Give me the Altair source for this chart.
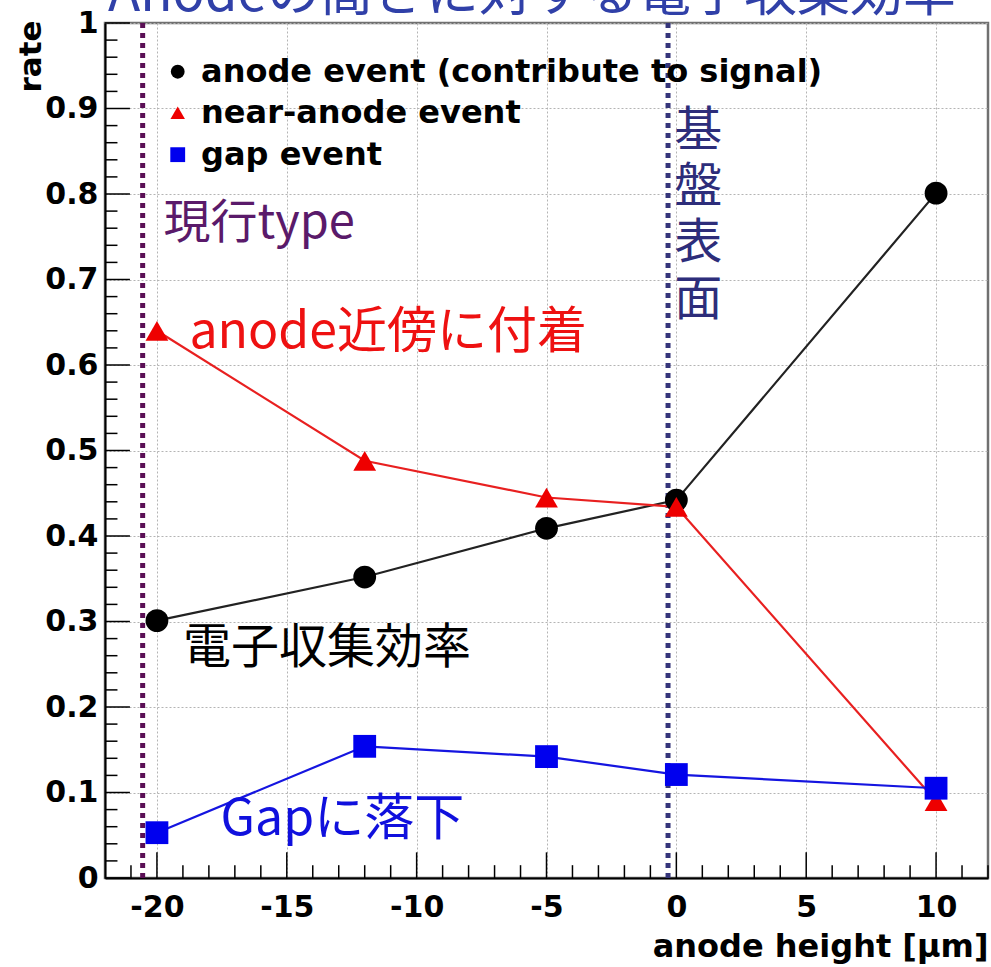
import altair as alt
import pandas as pd

# ---------------- data ----------------
height_um = [-20, -12, -5, 0, 10]
anode_rate = [0.301, 0.352, 0.409, 0.442, 0.801]
near_anode_rate = [0.640, 0.488, 0.445, 0.434, 0.090]
gap_rate = [0.053, 0.154, 0.142, 0.121, 0.105]

series_names = ["anode event (contribute to signal)", "near-anode event", "gap event"]
series_colors = ["#000000", "#ee0000", "#0000ee"]
line_colors = ["#222222", "#e82020", "#1515e0"]
series_shapes = ["circle", "triangle-up", "square"]

x_ticks = [-20, -15, -10, -5, 0, 5, 10]
y_ticks = [0, 0.1, 0.2, 0.3, 0.4, 0.5, 0.6, 0.7, 0.8, 0.9, 1.0]
x_minor = [v for v in range(-21, 13) if v % 5 != 0]
y_minor = [round(v * 0.02, 2) for v in range(1, 50) if v % 5 != 0]

marker_lines_x = [-20.55, -0.32]
marker_lines_color = ["#5a0f55", "#35357a"]

# legend placement (data units, inside the plot's top-left corner)
legend_symbol_x = -19.2
legend_label_x = -18.3
legend_rows_y = [0.943, 0.895, 0.846]
legend_symbol_size = [190, 210, 220]

notes_text = ["現行type", "anode近傍に付着", "電子収集効率", "Gapに落下"]
notes_x = [-19.75, -18.75, -19.0, -17.55]
notes_y = [0.765, 0.637, 0.268, 0.068]
notes_color = ["#5a1a6a", "#ee1111", "#000000", "#1010dd"]
notes_size = [47, 50, 48, 50]

vert_chars = ["基", "盤", "表", "面"]
vert_x = 0.84
vert_y = [0.873, 0.807, 0.741, 0.675]

title_text = "Anodeの高さに対する電子収集効率"

X_DOMAIN = [-22, 12]
Y_DOMAIN = [0, 1]
W, H = 883, 855

# ---------------- tables ----------------
rows = []
for name, vals in zip(series_names, [anode_rate, near_anode_rate, gap_rate]):
    for xv, yv in zip(height_um, vals):
        rows.append({"x": xv, "y": yv, "series": name})
df = pd.DataFrame(rows)

df_v = pd.DataFrame({"x": marker_lines_x, "c": marker_lines_color,
                     "y0": [0.0, 0.0], "y1": [1.0, 1.0]})

tick_rows = []
for v in x_ticks:
    tick_rows.append({"x": v, "x2": v, "y": 0.0, "y2": 0.030})
for v in x_minor:
    tick_rows.append({"x": v, "x2": v, "y": 0.0, "y2": 0.015})
for v in y_ticks:
    tick_rows.append({"x": -22, "x2": -21.04, "y": v, "y2": v})
for v in y_minor:
    tick_rows.append({"x": -22, "x2": -21.52, "y": v, "y2": v})
df_t = pd.DataFrame(tick_rows)

df_leg = pd.DataFrame({"name": series_names, "c": series_colors, "shape": series_shapes,
                       "y": legend_rows_y, "s": legend_symbol_size,
                       "xs": [legend_symbol_x] * 3, "xl": [legend_label_x] * 3})

df_n = pd.DataFrame({"x": notes_x, "y": notes_y, "t": notes_text, "c": notes_color,
                     "s": notes_size})
df_vt = pd.DataFrame({"x": [vert_x] * 4, "y": vert_y, "t": vert_chars})

xs = alt.Scale(domain=X_DOMAIN, nice=False, zero=False)
ys = alt.Scale(domain=Y_DOMAIN, nice=False, zero=False)

FONT = "DejaVu Sans"
JP = "Noto Sans CJK JP"

x_axis = alt.Axis(values=x_ticks, format="d", labelExpr="replace(datum.label, '−', '-')",
                  labelFont=FONT, labelFontSize=30, labelFontWeight="bold",
                  labelColor="black", tickSize=0, labelPadding=14,
                  domainColor="black", domainWidth=2,
                  grid=True, gridColor="#b4b4b4", gridDash=[2, 2], gridWidth=1,
                  title="anode height [μm]", titleFont=FONT, titleFontSize=32,
                  titleFontWeight="bold", titleColor="black",
                  titleX=W, titleY=68, titleAlign="right", titleBaseline="middle",
                  labelFlush=False, labelOverlap=False)
y_axis = alt.Axis(values=y_ticks, format=".1~f", labelFont=FONT, labelFontSize=30,
                  labelFontWeight="bold", labelColor="black", tickSize=0, labelPadding=7,
                  domainColor="black", domainWidth=2,
                  grid=True, gridColor="#b4b4b4", gridDash=[2, 2], gridWidth=1,
                  title="rate", titleFont=FONT, titleFontSize=31, titleFontWeight="bold",
                  titleColor="black", titleAngle=270, titleX=-74, titleY=-3,
                  titleAlign="right", titleBaseline="middle",
                  labelFlush=False, labelOverlap=False)

base = alt.Chart(df)

vlines = alt.Chart(df_v).mark_rule(strokeDash=[5, 5], strokeWidth=5).encode(
    x=alt.X("x:Q", scale=xs, axis=x_axis),
    y=alt.Y("y0:Q", scale=ys, axis=y_axis),
    y2="y1:Q",
    color=alt.Color("c:N", scale=None),
)

ticks = alt.Chart(df_t).mark_rule(color="black", strokeWidth=1.5).encode(
    x=alt.X("x:Q", scale=xs), x2="x2:Q",
    y=alt.Y("y:Q", scale=ys), y2="y2:Q",
)

lines = base.mark_line(strokeWidth=2.2).encode(
    x=alt.X("x:Q", scale=xs),
    y=alt.Y("y:Q", scale=ys),
    stroke=alt.Stroke("series:N", scale=alt.Scale(domain=series_names, range=line_colors),
                      legend=None),
    detail="series:N",
)

points = base.mark_point(filled=True, size=520, opacity=1).encode(
    x=alt.X("x:Q", scale=xs),
    y=alt.Y("y:Q", scale=ys),
    fill=alt.Fill("series:N", scale=alt.Scale(domain=series_names, range=series_colors),
                  legend=None),
    shape=alt.Shape("series:N", scale=alt.Scale(domain=series_names, range=series_shapes),
                    legend=None),
)

leg_sym = alt.Chart(df_leg).mark_point(filled=True, opacity=1).encode(
    x=alt.X("xs:Q", scale=xs),
    y=alt.Y("y:Q", scale=ys),
    fill=alt.Fill("c:N", scale=None),
    shape=alt.Shape("shape:N", scale=None),
    size=alt.Size("s:Q", scale=None),
)
leg_txt = alt.Chart(df_leg).mark_text(font=FONT, fontSize=32, fontWeight="bold",
                                      align="left", baseline="middle", color="black").encode(
    x=alt.X("xl:Q", scale=xs),
    y=alt.Y("y:Q", scale=ys),
    text="name:N",
)

notes = alt.Chart(df_n).mark_text(font=JP, align="left", baseline="middle").encode(
    x=alt.X("x:Q", scale=xs),
    y=alt.Y("y:Q", scale=ys),
    text="t:N",
    size=alt.Size("s:Q", scale=None),
    color=alt.Color("c:N", scale=None),
)

vert_note = alt.Chart(df_vt).mark_text(
    font=JP, fontSize=48, align="center", baseline="middle", color="#2d2d7a",
).encode(
    x=alt.X("x:Q", scale=xs),
    y=alt.Y("y:Q", scale=ys),
    text="t:N",
)

title_mark = alt.Chart(pd.DataFrame({"t": [title_text]})).mark_text(
    font=JP, fontSize=53, align="left", baseline="alphabetic", color="#3040a8",
).encode(
    x=alt.value(3), y=alt.value(-12), text="t:N",
)

chart = alt.layer(vlines, ticks, lines, points, leg_sym, leg_txt, notes, vert_note,
                  title_mark).properties(
    width=W, height=H,
    autosize=alt.AutoSizeParams(type="none"),
    padding={"left": 105, "top": 23, "right": 3, "bottom": 89},
    background="white",
).configure_view(
    stroke="#707070", strokeWidth=2.5,
)

chart.save("out.html", embed_options={"renderer": "svg", "actions": False})
